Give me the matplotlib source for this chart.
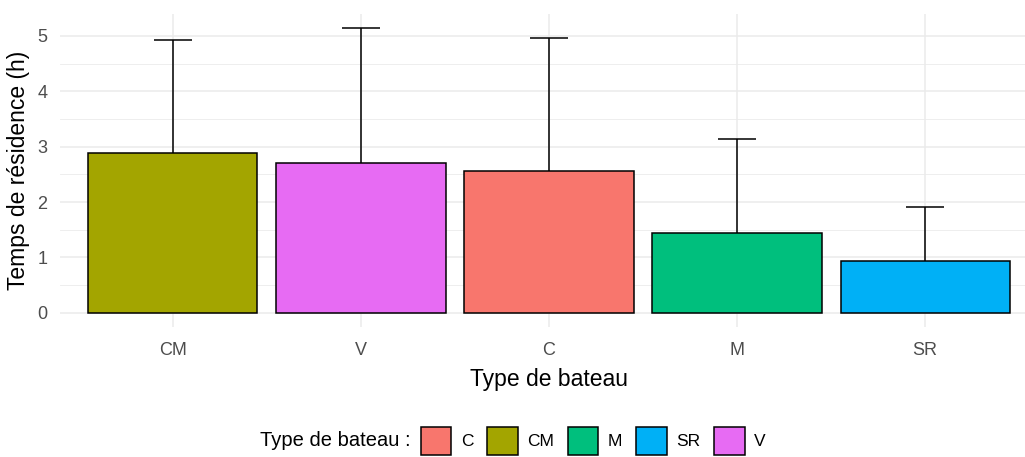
import numpy as np
import matplotlib.pyplot as plt
from matplotlib.patches import Patch

plt.rcParams['font.family'] = ['Liberation Sans', 'DejaVu Sans']

# data, ordered as on the x axis
types = ['CM', 'V', 'C', 'M', 'SR']
means = [2.88, 2.71, 2.56, 1.44, 0.94]
upper = [4.93, 5.14, 4.96, 3.14, 1.91]

# legend order (alphabetical, as in ggplot)
legend_types = ['C', 'CM', 'M', 'SR', 'V']
colors = {'C': '#F8766D', 'CM': '#A3A500', 'M': '#00BF7D',
          'SR': '#00B0F6', 'V': '#E76BF3'}

W, H = 1025, 457
fig = plt.figure(figsize=(W / 100, H / 100), dpi=100)
# axes placed in pixel coords
left, right, top, bottom = 60, 1038, 14, 327
ax = fig.add_axes([left / W, 1 - bottom / H, (right - left) / W, (bottom - top) / H])

x = np.arange(len(types))

# upper whisker only: stem from bar top + cap
ax.vlines(x, means, upper, color='black', linewidth=1.1, zorder=2)
ax.hlines(upper, x - 0.1, x + 0.1, color='black', linewidth=1.1, zorder=2)
ax.bar(x, means, width=0.9, color=[colors[t] for t in types],
       edgecolor='black', linewidth=1.1, zorder=3)

ax.set_xlim(-0.6, len(types) - 0.4)
ax.set_ylim(-0.257, 5.397)
ax.set_xticks(x)
ax.set_xticklabels(types)
ax.set_yticks(range(6))
ax.set_yticks(np.arange(0.5, 5.5, 1), minor=True)

ax.grid(True, which='major', color='#EBEBEB', linewidth=1.1, zorder=0)
ax.grid(True, which='minor', axis='y', color='#EBEBEB', linewidth=0.6, zorder=0)
ax.set_axisbelow(True)
for s in ax.spines.values():
    s.set_visible(False)
ax.tick_params(which='both', length=0, labelsize=13, labelcolor='#4D4D4D')
ax.tick_params(axis='x', pad=11)
ax.tick_params(axis='y', pad=9)

ax.set_xlabel('Type de bateau', fontsize=16.5, color='black', labelpad=6)
ax.set_ylabel('Temps de résidence (h)', fontsize=16.5, color='black', labelpad=5)

handles = [Patch(facecolor=colors[t], edgecolor='black', linewidth=1.1) for t in legend_types]
fig.text(260 / W, 1 - 441 / H, 'Type de bateau :', fontsize=14.5, va='center', ha='left')
fig.legend(handles, legend_types, loc='center left', bbox_to_anchor=(421 / W, 1 - 441 / H),
           ncol=5, frameon=False, fontsize=12.5, handlelength=1.75, handleheight=2.1,
           handletextpad=0.55, columnspacing=0.8, borderaxespad=0, borderpad=0)

fig.savefig('out.png', dpi=100)
